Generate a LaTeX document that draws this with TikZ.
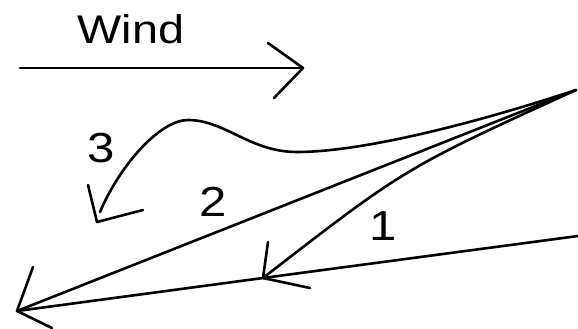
\documentclass[tikz,border=0pt]{standalone}
\usepackage{fontspec}
\setmainfont{Liberation Sans}
\usetikzlibrary{positioning}
\newcommand{\widetext}[1]{\scalebox{1.17}[1]{#1}}

\begin{document}
\begin{tikzpicture}[x=1pt, y=-1pt,
  pen/.style={line width=2.6pt, line cap=round, line join=round},
  lbl/.style={font=\fontsize{40}{48}\selectfont, inner sep=0pt},
  num/.style={font=\fontsize{42}{50}\selectfont, inner sep=0pt}
]
\useasboundingbox (0,0) rectangle (578,329);

\coordinate (windL) at (20,68);
\coordinate (windR) at (303,68);
\coordinate (windA) at (268,43);
\coordinate (windB) at (274,98);
\coordinate (apex)  at (576,90);
\coordinate (edge)  at (578,236);
\coordinate (mid)   at (263,278);
\coordinate (midA)  at (268,242);
\coordinate (midB)  at (310,288);
\coordinate (tip)   at (17,311);
\coordinate (tipA)  at (33,267);
\coordinate (tipB)  at (52,328);
\coordinate (dip)   at (297,152);
\coordinate (hump)  at (188,120);
\coordinate (end3)  at (100,212);
\coordinate (tip3)  at (97,222);
\coordinate (tip3A) at (88,185);
\coordinate (tip3B) at (143,210);

\node[lbl] (wind) at (131,29) {\widetext{Wind}};
\node[num] (one)  at (383,226) {\widetext{1}};
\node[num] (two)  at (213,202) {\widetext{2}};
\node[num] (three) at (101,148) {\widetext{3}};

\draw[pen] (windL) -- (windR);
\draw[pen] (windA) -- (windR) -- (windB);

\draw[pen] (edge) -- (mid) -- (tip);
\draw[pen] (apex) -- (tip);
\draw[pen] (tipA) -- (tip) -- (tipB);

\draw[pen] (apex) .. controls (405,168) .. (mid);
\draw[pen] (midA) -- (mid) -- (midB);

\draw[pen] (apex) .. controls (470,125) and (360,152) .. (dip)
  .. controls (250,152) and (225,120) .. (hump)
  .. controls (160,120) and (120,165) .. (end3);
\draw[pen] (tip3A) -- (tip3) -- (tip3B);
\end{tikzpicture}
\end{document}
